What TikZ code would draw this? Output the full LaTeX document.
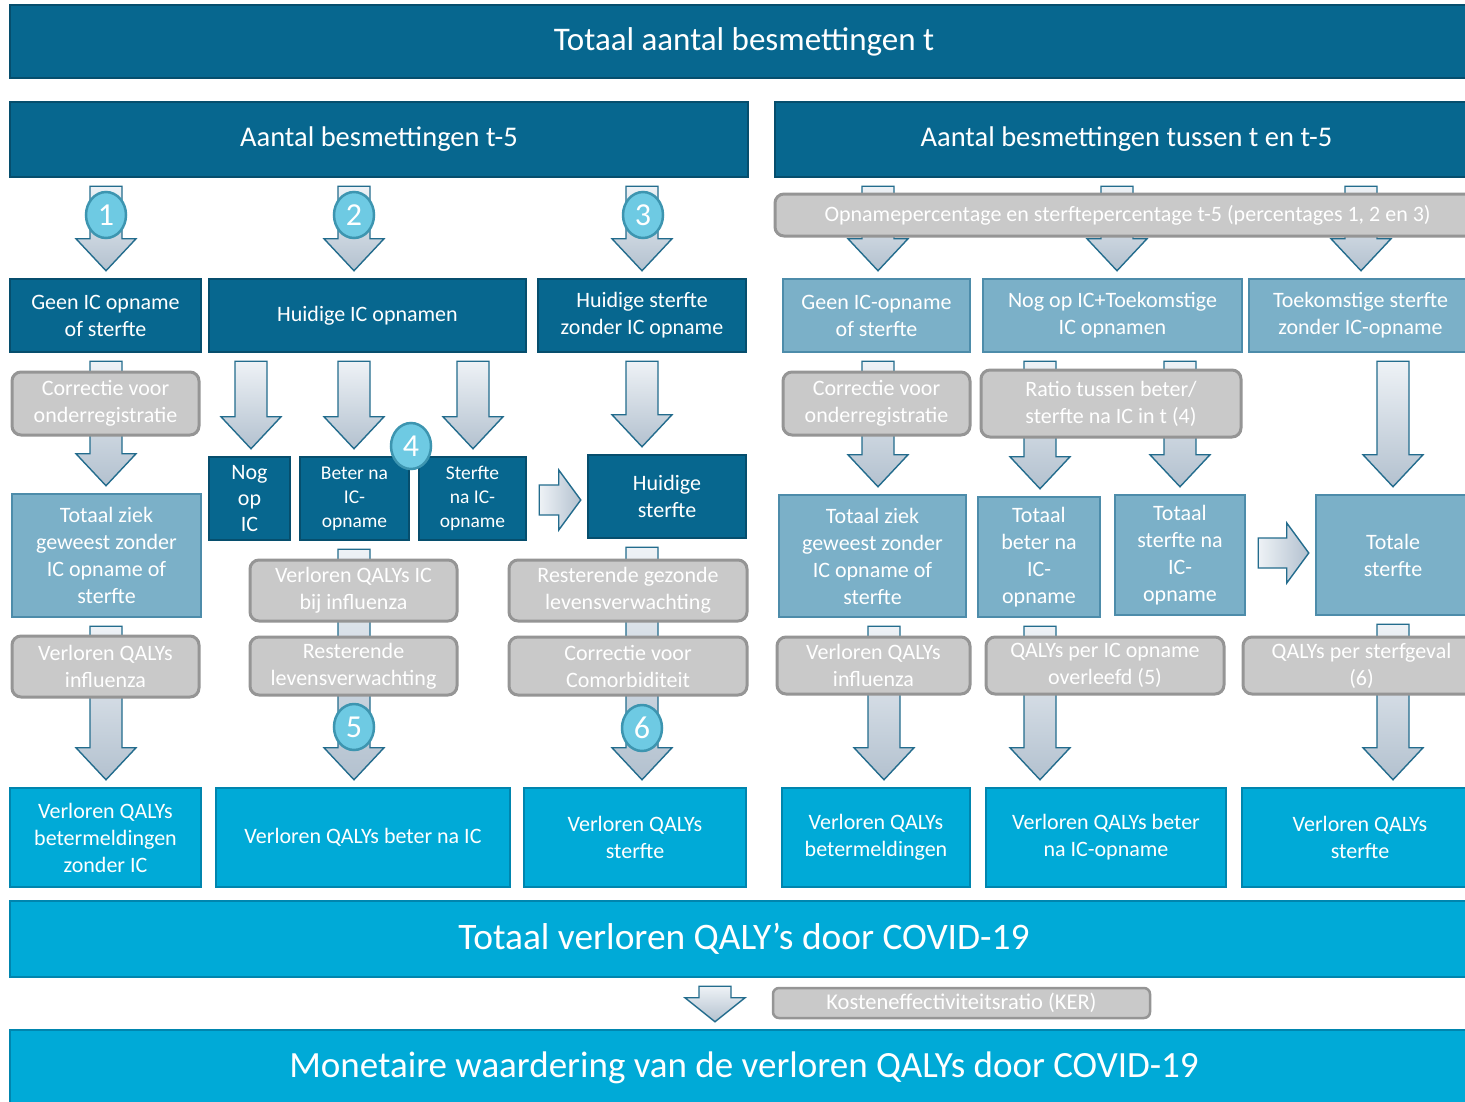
\documentclass[tikz,border=0pt]{standalone}
\usepackage{fontspec}
\setmainfont{Carlito}
\usetikzlibrary{shapes.geometric,calc}
\definecolor{dblue}{HTML}{07678F}
\definecolor{dblueb}{HTML}{064E6D}
\definecolor{mblue}{HTML}{7BB0C8}
\definecolor{mblueb}{HTML}{4D8CAA}
\definecolor{cblue}{HTML}{00AAD7}
\definecolor{cblueb}{HTML}{0085AE}
\definecolor{gfill}{HTML}{C9C9C9}
\definecolor{gbord}{HTML}{959595}
\definecolor{arrtop}{HTML}{EEF2F6}
\definecolor{arrbot}{HTML}{B3C1CF}
\definecolor{arrline}{HTML}{236C8D}
\definecolor{numfill}{HTML}{6ECAE3}
\definecolor{numbord}{HTML}{3D95B0}
\tikzset{
 base/.style={rectangle, inner sep=0pt, text=white, align=center, line width=2.5pt, font=\fontsize{22}{27}\selectfont},
 dbox/.style={base, fill=dblue, draw=dblueb},
 mbox/.style={base, fill=mblue, draw=mblueb},
 cbox/.style={base, fill=cblue, draw=cblueb},
 gbox/.style={base, fill=gfill, draw=gbord, rounded corners=9pt, line width=3pt},
 blockarrow/.style={top color=arrtop, bottom color=arrbot, draw=arrline, line width=1.4pt, line join=miter},
 harrow/.style={left color=arrtop, right color=arrbot, draw=arrline, line width=1.4pt, line join=miter},
 num/.style={ellipse, minimum width=40pt, minimum height=46pt, inner sep=0pt, fill=numfill, draw=numbord, line width=2.5pt, text=white, font=\fontsize{32}{32}\selectfont},
}
% box from corners: {style}{name}{x1}{y1}{x2}{y2}{text}
\newcommand\bx[7]{%
  \node[#1, minimum width={#5-#3}, minimum height={#6-#4}] (#2) at ({(#3+#5)/2},{(#4+#6)/2}) {#7};}
% vertical block arrow: [head length]{from}{to}{x}
\newcommand\varr[4][32]{%
  \path[blockarrow] let \p1=(#2.south), \p2=(#3.north) in
  ({#4pt-16pt},{\y1-8pt}) -- ({#4pt+16pt},{\y1-8pt}) -- ({#4pt+16pt},{\y2+7pt+#1pt}) -- ({#4pt+30pt},{\y2+7pt+#1pt}) -- (#4pt,{\y2+7pt}) -- ({#4pt-30pt},{\y2+7pt+#1pt}) -- ({#4pt-16pt},{\y2+7pt+#1pt}) -- cycle;}
% horizontal block arrow: {from}{to}{y}
\newcommand\harr[3]{%
  \path[harrow] let \p1=(#1.east), \p2=(#2.west) in
  ({\x1+12pt},{15pt-#3pt}) -- ({\x2-28pt},{15pt-#3pt}) -- ({\x2-28pt},{30pt-#3pt}) -- ({\x2-6pt},{-#3pt}) -- ({\x2-28pt},{-30pt-#3pt}) -- ({\x2-28pt},{-15pt-#3pt}) -- ({\x1+12pt},{-15pt-#3pt}) -- cycle;}
\begin{document}
\begin{tikzpicture}[x=1pt,y=-1pt]
\useasboundingbox (0,0) rectangle (1465,1101);
\clip (0,0) rectangle (1465,1101);
\fill[white] (0,0) rectangle (1465,1101);
% headers
\bx{dbox, font=\fontsize{33}{36}\selectfont}{title}{10}{5}{1478}{78}{Totaal aantal besmettingen t}
\bx{dbox, font=\fontsize{28.5}{32}\selectfont}{hl}{10}{102}{748}{177}{Aantal besmettingen t-5}
\bx{dbox, font=\fontsize{28.5}{32}\selectfont}{hr}{775}{102}{1478}{177}{Aantal besmettingen tussen t en t-5}
% left row 1
\bx{dbox}{g1}{10}{279}{201}{352}{Geen IC opname\\of sterfte}
\bx{dbox}{h1}{209}{279}{526}{352}{Huidige IC opnamen}
\bx{dbox}{s1}{538}{279}{746}{352}{Huidige sterfte\\zonder IC opname}
% left row 2
\bx{mbox}{z1}{12}{494}{201}{617}{Totaal ziek\\geweest zonder\\IC opname of\\sterfte}
\bx{dbox, font=\fontsize{22}{26}\selectfont}{nog}{209}{457}{290}{540}{Nog\\op\\IC}
\bx{dbox, font=\fontsize{19.5}{24}\selectfont}{bet}{300}{457}{409}{540}{Beter na\\IC-\\opname}
\bx{dbox, font=\fontsize{19.5}{24}\selectfont}{ster}{419}{457}{526}{540}{Sterfte\\na IC-\\opname}
\bx{dbox}{hs}{588}{455}{746}{538}{Huidige\\sterfte}
% left bottom
\bx{cbox}{b1}{10}{788}{201}{887}{Verloren QALYs\\betermeldingen\\zonder IC}
\bx{cbox}{b2}{216}{788}{510}{887}{Verloren QALYs beter na IC}
\bx{cbox}{b3}{524}{788}{746}{887}{Verloren QALYs\\sterfte}
% right row 1
\bx{mbox}{rg}{783}{279}{970}{352}{Geen IC-opname\\of sterfte}
\bx{mbox}{rn}{983}{279}{1242}{352}{Nog op IC+Toekomstige\\IC opnamen}
\bx{mbox}{rt}{1249}{279}{1472}{352}{Toekomstige sterfte\\zonder IC-opname}
% right row 2
\bx{mbox}{rz}{779}{495}{966}{617}{Totaal ziek\\geweest zonder\\IC opname of\\sterfte}
\bx{mbox}{rb}{978}{497}{1100}{617}{Totaal\\beter na\\IC-\\opname}
\bx{mbox}{rs}{1115}{495}{1245}{615}{Totaal\\sterfte na\\IC-\\opname}
\bx{mbox}{rts}{1316}{495}{1470}{615}{Totale\\sterfte}
% right bottom
\bx{cbox}{rb1}{782}{788}{970}{887}{Verloren QALYs\\betermeldingen}
\bx{cbox}{rb2}{986}{788}{1226}{887}{Verloren QALYs beter\\na IC-opname}
\bx{cbox}{rb3}{1242}{788}{1478}{887}{Verloren QALYs\\sterfte}
% totals
\bx{cbox, font=\fontsize{37.4}{40}\selectfont}{tot}{10}{901}{1478}{977}{Totaal verloren QALY’s door COVID-19}
\bx{cbox, font=\fontsize{37}{40}\selectfont}{mon}{10}{1030}{1478}{1106}{Monetaire waardering van de verloren QALYs door COVID-19}
% arrows left
\varr{hl}{g1}{106}
\varr{hl}{h1}{354}
\varr{hl}{s1}{642}
\varr{g1}{z1}{106}
\varr{h1}{nog}{251}
\varr{h1}{bet}{354}
\varr{h1}{ster}{473}
\varr{s1}{hs}{642}
\harr{ster}{hs}{500}
\varr{z1}{b1}{106}
\varr{bet}{b2}{354}
\varr{hs}{b3}{642}
% arrows right
\varr{hr}{rg}{878}
\varr{hr}{rn}{1117}
\varr{hr}{rt}{1361}
\varr{rg}{rz}{878}
\varr{rn}{rb}{1040}
\varr{rn}{rs}{1180}
\varr{rt}{rts}{1393}
\harr{rs}{rts}{553}
\varr{rz}{rb1}{884}
\varr{rb}{rb2}{1040}
\varr{rts}{rb3}{1393}
\varr[24]{tot}{mon}{715}
% grey boxes
\bx{gbox}{c1}{12}{372}{199}{435}{Correctie voor\\onderregistratie}
\bx{gbox}{q1}{12}{636}{199}{697}{Verloren QALYs\\influenza}
\bx{gbox}{v1}{250}{560}{457}{621}{Verloren QALYs IC\\bij influenza}
\bx{gbox}{r1}{250}{637}{457}{695}{Resterende\\levensverwachting}
\bx{gbox}{r2}{509}{560}{747}{621}{Resterende gezonde\\levensverwachting}
\bx{gbox}{cc}{509}{637}{747}{695}{Correctie voor\\Comorbiditeit}
\bx{gbox}{gop}{775}{194}{1480}{236}{Opnamepercentage en sterftepercentage t-5 (percentages 1, 2 en 3)}
\bx{gbox}{rc}{783}{372}{970}{435}{Correctie voor\\onderregistratie}
\bx{gbox}{rr}{981}{370}{1241}{437}{Ratio tussen beter/\\sterfte na IC in t (4)}
\bx{gbox}{rq1}{777}{637}{970}{694}{Verloren QALYs\\influenza}
\bx{gbox}{rq2}{986}{637}{1224}{694}{QALYs per IC opname\\overleefd (5)}
\bx{gbox}{rq3}{1243}{637}{1480}{694}{QALYs per sterfgeval\\(6)}
\bx{gbox, rounded corners=6pt, line width=2.5pt, font=\fontsize{22.5}{24}\selectfont}{ker}{773}{988}{1150}{1018}{Kosteneffectiviteitsratio (KER)}
% numbers
\node[num] (n1) at (106,215) {1};
\node[num] (n2) at (354,215) {2};
\node[num] (n3) at (643,215) {3};
\node[num] (n4) at (411,446) {4};
\node[num] (n5) at (354,727) {5};
\node[num] (n6) at (642,728) {6};
\end{tikzpicture}
\end{document}
